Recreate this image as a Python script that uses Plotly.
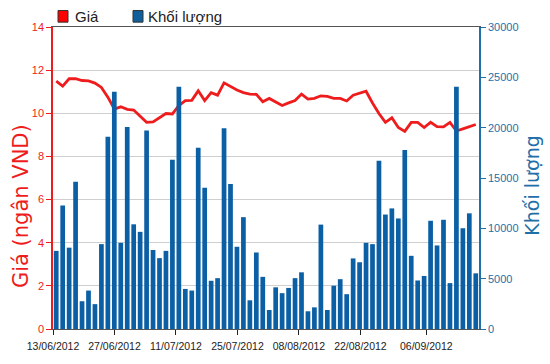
import datetime as dt
import plotly.graph_objects as go

# ---- data ----
price = [11.49, 11.26, 11.60, 11.60, 11.52, 11.50, 11.40, 11.20, 10.75, 10.20,
         10.30, 10.18, 10.15, 9.85, 9.58, 9.60, 9.78, 9.99, 9.97, 10.36,
         10.59, 10.60, 11.04, 10.59, 10.96, 10.84, 11.41, 11.23, 11.08, 10.96,
         10.89, 10.88, 10.54, 10.69, 10.54, 10.36, 10.48, 10.59, 10.89, 10.66,
         10.69, 10.81, 10.78, 10.69, 10.69, 10.57, 10.84, 10.93, 11.02, 10.48,
         9.99, 9.58, 9.79, 9.34, 9.16, 9.58, 9.58, 9.34, 9.58, 9.38,
         9.37, 9.58, 9.18, 9.28, 9.38, 9.48]
volume = [7760, 12270, 8080, 14620, 2760, 3820, 2470, 8430, 19110, 23560,
          8560, 20070, 10400, 9650, 19720, 7850, 7040, 7760, 16820, 24070,
          3980, 3820, 18010, 14040, 4790, 5050, 19950, 14400, 8170, 11110,
          2850, 7600, 5180, 1890, 4140, 3560, 4080, 5050, 5630, 1760,
          2150, 10370, 1890, 4300, 4950, 3460, 7010, 6630, 8560, 8430,
          16720, 11370, 11980, 10980, 17790, 7270, 4820, 5270, 10750, 8300,
          10850, 4560, 24070, 10010, 11490, 5530]
tick_labels = ["13/06/2012", "27/06/2012", "11/07/2012", "25/07/2012",
               "08/08/2012", "22/08/2012", "06/09/2012"]
price_ticks = [0, 2, 4, 6, 8, 10, 12, 14]
volume_ticks = [0, 5000, 10000, 15000, 20000, 25000, 30000]
legend_names = ["Giá", "Khối lượng"]

RED = "#ee1c1c"
BLUE = "#0b5fa5"
AXBLUE = "#1f6fa8"
FONT = "Liberation Sans, Arial, sans-serif"

# plot-area geometry in pixels (used for paper-coordinate conversion)
L, R, T, B = 53, 479, 27, 339
W, H = R - L, B - T


def px(xp):
    return (xp - L) / W


def py(yp):
    return (B - yp) / H


x = list(range(len(volume)))
n = len(volume)

# x axis ticks are calendar-date based over a ~97 day span
start = dt.datetime.strptime(tick_labels[0], "%d/%m/%Y")
span_days = 97.0
tickvals = [-0.5 + (dt.datetime.strptime(t, "%d/%m/%Y") - start).days * n / span_days
            for t in tick_labels]

fig = go.Figure()
fig.add_trace(go.Bar(x=x, y=volume, yaxis="y2", marker=dict(color=BLUE, line=dict(width=0)),
                     name=legend_names[1], showlegend=False))
fig.add_trace(go.Scatter(x=x, y=price, yaxis="y", mode="lines",
                         line=dict(color=RED, width=2.8), name=legend_names[0], showlegend=False))

shapes = [
    dict(type="rect", xref="paper", yref="paper", x0=px(58), x1=px(68), y0=py(22), y1=py(10),
         fillcolor="#ff0000", line=dict(color="#333", width=1)),
    dict(type="rect", xref="paper", yref="paper", x0=px(133), x1=px(143), y0=py(22), y1=py(10),
         fillcolor="#0f5f9c", line=dict(color="#333", width=1)),
]
annotations = [
    dict(text=legend_names[0], xref="paper", yref="paper", x=px(73), y=py(16),
         xanchor="left", yanchor="middle", showarrow=False,
         font=dict(family=FONT, size=15, color="#222")),
    dict(text=legend_names[1], xref="paper", yref="paper", x=px(146), y=py(16),
         xanchor="left", yanchor="middle", showarrow=False,
         font=dict(family=FONT, size=15, color="#222")),
    dict(text="Giá (ngân VND)", xref="paper", yref="paper", x=px(21), y=py(212),
         xanchor="center", yanchor="middle", textangle=-90, showarrow=False,
         font=dict(family="DejaVu Sans", size=21, color=RED)),
    dict(text="Khối lượng", xref="paper", yref="paper", x=px(532), y=py(191),
         xanchor="center", yanchor="middle", textangle=-90, showarrow=False,
         font=dict(family="DejaVu Sans", size=19, color=AXBLUE)),
]

fig.update_layout(
    width=550, height=364,
    margin=dict(l=L, r=550 - R, t=T, b=364 - B),
    paper_bgcolor="white", plot_bgcolor="white",
    bargap=0.27,
    showlegend=False,
    font=dict(family=FONT, size=11),
    xaxis=dict(range=[-0.5, n - 0.5], tickmode="array", tickvals=tickvals, ticktext=tick_labels,
               ticks="outside", ticklen=5, tickcolor="#222", showgrid=False, zeroline=False,
               showline=True, linecolor="#555", linewidth=1, mirror=True,
               ticklabelstandoff=2,
               tickfont=dict(family=FONT, size=10.5, color="#222")),
    yaxis=dict(range=[0, 14], tickvals=price_ticks, showgrid=True, gridcolor="#cfcfcf", gridwidth=1,
               zeroline=False, showline=True, linecolor=RED, linewidth=1.5,
               ticks="outside", ticklen=5, tickcolor=RED,
               tickfont=dict(family=FONT, size=11, color=RED)),
    yaxis2=dict(range=[0, 30000], tickmode="array", tickvals=volume_ticks,
                ticktext=[str(v) for v in volume_ticks], overlaying="y", side="right",
                showgrid=False, zeroline=False, showline=True, linecolor=AXBLUE, linewidth=1.5,
                ticks="outside", ticklen=5, tickcolor=AXBLUE,
                tickfont=dict(family=FONT, size=11, color=AXBLUE)),
    shapes=shapes,
    annotations=annotations,
)

fig.write_html("out.html")
